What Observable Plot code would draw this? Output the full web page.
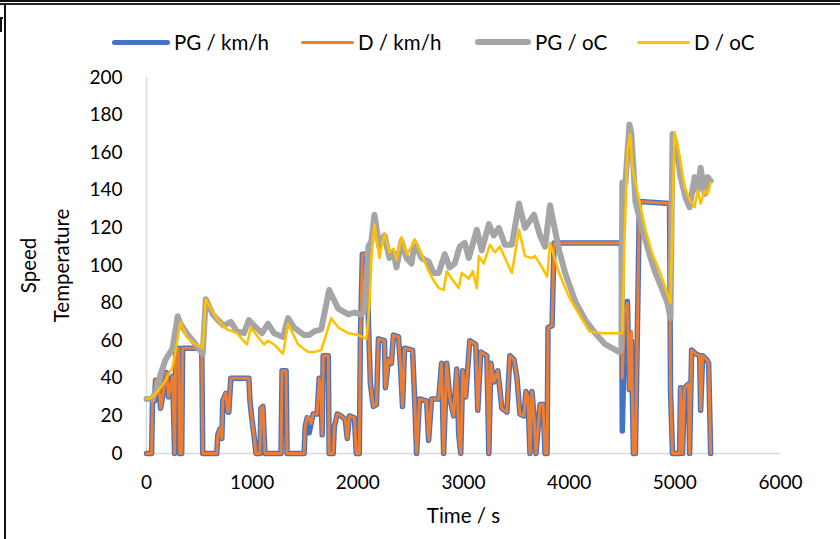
<!DOCTYPE html>
<html><head><meta charset="utf-8">
<script src="https://cdn.jsdelivr.net/npm/d3@7"></script>
<script src="https://cdn.jsdelivr.net/npm/@observablehq/plot@0.6"></script>
<style>
html,body{margin:0;padding:0;background:#fff;overflow:hidden;}
#page{position:relative;width:840px;height:539px;font-family:Lato,sans-serif;color:#000;}
#legend{position:relative;width:840px;height:60px;}
.item{position:absolute;top:30px;height:24px;display:flex;align-items:center;font-size:20.5px;white-space:nowrap;}
.sw{display:inline-block;border-radius:3px;margin-right:4px;}
.frame-top1{position:absolute;left:0;top:0;width:840px;height:2px;background:#111;}
.frame-top2{position:absolute;left:0;top:3px;width:840px;height:2px;background:#222;}
.frame-left{position:absolute;left:4px;top:5px;width:1.5px;height:534px;background:#111;}
.cut{position:absolute;left:0;top:17px;width:1.5px;height:15px;background:#111;}
.cut2{position:absolute;left:0;top:17px;width:3px;height:1.5px;background:#111;}
#chart svg{display:block;}
</style>
</head>
<body>
<div id="page">
  <div id="legend">
    <div class="frame-top1"></div><div class="frame-top2"></div><div class="frame-left"></div>
    <div class="cut"></div><div class="cut2"></div>
  </div>
  <div id="chart"></div>
</div>
<script>
// ---- data (time in s, value) ----
const seriesNames = ["PG / km/h", "D / km/h", "PG / oC", "D / oC"];
const seriesColors = ["#4472C4", "#ED7D31", "#A5A5A5", "#FFC000"];
const xTicks = [0, 1000, 2000, 3000, 4000, 5000, 6000];
const yTicks = [0, 20, 40, 60, 80, 100, 120, 140, 160, 180, 200];

const pgSpeed = [[0,0],[48,0],[57,28],[76,28],[86,39],[114,38],[133,24],[152,30],[171,38],[190,43],[209,30],[228,36],[247,41],[257,20],[266,0],[276,56],[304,56],[314,0],[333,0],[342,56],[523,56],[532,0],[665,0],[675,10],[694,13],[713,8],[722,28],[751,32],[770,22],[779,22],[798,40],[969,40],[979,28],[998,18],[1017,10],[1036,0],[1074,0],[1083,24],[1102,25],[1121,0],[1273,0],[1283,44],[1321,44],[1330,0],[1492,0],[1501,14],[1520,19],[1539,11],[1558,16],[1577,21],[1615,21],[1634,40],[1653,30],[1663,10],[1672,52],[1720,52],[1729,0],[1767,0],[1777,14],[1805,21],[1843,20],[1881,18],[1900,8],[1919,20],[1967,19],[1986,0],[2014,0],[2024,60],[2043,106],[2090,106],[2100,70],[2119,37],[2147,25],[2176,26],[2195,61],[2252,60],[2261,35],[2290,50],[2318,48],[2337,63],[2385,62],[2404,46],[2423,25],[2442,56],[2518,55],[2537,30],[2556,0],[2584,29],[2651,28],[2670,7],[2698,29],[2765,29],[2793,48],[2812,0],[2841,48],[2869,30],[2907,20],[2936,45],[2955,10],[2974,0],[2993,44],[3021,30],[3059,60],[3116,58],[3135,23],[3164,54],[3221,52],[3240,0],[3259,48],[3287,38],[3325,44],[3363,24],[3411,22],[3439,52],[3477,50],[3506,40],[3534,21],[3572,20],[3591,33],[3610,30],[3629,0],[3648,33],[3667,20],[3686,0],[3724,26],[3753,26],[3772,0],[3791,0],[3800,67],[3838,68],[3857,112],[4494,112],[4503,12],[4522,60],[4551,81],[4570,34],[4589,60],[4608,0],[4627,0],[4665,134],[4950,133],[4959,34],[4978,0],[5045,0],[5054,35],[5073,0],[5092,35],[5130,37],[5140,0],[5159,55],[5197,53],[5235,52],[5244,23],[5263,52],[5301,50],[5320,48],[5339,0]];

const dSpeed = [[0,0],[48,0],[57,28],[76,28],[86,39],[114,38],[133,24],[152,30],[171,38],[190,43],[209,30],[228,36],[247,41],[257,20],[266,0],[276,56],[304,56],[314,0],[333,0],[342,56],[523,56],[532,0],[665,0],[675,10],[694,13],[713,8],[722,28],[751,32],[770,22],[779,22],[798,40],[969,40],[979,28],[998,18],[1017,10],[1036,0],[1074,0],[1083,24],[1102,25],[1121,0],[1273,0],[1283,44],[1321,44],[1330,0],[1492,0],[1501,14],[1520,19],[1539,19],[1558,16],[1577,21],[1615,21],[1634,40],[1653,30],[1663,10],[1672,52],[1720,52],[1729,0],[1767,0],[1777,14],[1805,21],[1843,20],[1881,18],[1900,8],[1919,20],[1967,19],[1986,0],[2014,0],[2024,60],[2043,106],[2090,106],[2100,70],[2119,37],[2147,25],[2176,26],[2195,61],[2252,60],[2261,35],[2290,50],[2318,48],[2337,63],[2385,62],[2404,46],[2423,25],[2442,56],[2518,55],[2537,30],[2556,0],[2584,29],[2651,28],[2670,7],[2698,29],[2765,29],[2793,48],[2812,0],[2841,48],[2869,30],[2907,20],[2936,45],[2955,10],[2974,0],[2993,44],[3021,30],[3059,60],[3116,58],[3135,23],[3164,54],[3221,52],[3240,0],[3259,48],[3287,38],[3325,44],[3363,24],[3411,22],[3439,52],[3477,50],[3506,40],[3534,21],[3572,20],[3591,33],[3610,30],[3629,0],[3648,33],[3667,20],[3686,0],[3724,26],[3753,26],[3772,0],[3791,0],[3800,67],[3838,68],[3857,112],[4494,112],[4503,40],[4522,75],[4551,80],[4570,34],[4589,65],[4608,0],[4627,0],[4665,134],[4950,133],[4959,34],[4978,0],[5045,0],[5054,35],[5073,0],[5092,35],[5130,37],[5140,0],[5159,55],[5197,53],[5235,52],[5244,23],[5263,52],[5301,50],[5320,48],[5339,0]];

const pgTemp = [[0,29],[57,29],[86,33],[133,42],[181,50],[247,56],[295,73],[323,69],[380,64],[466,58],[532,53],[561,82],[627,74],[675,71],[732,68],[798,70],[855,65],[922,64],[969,71],[1036,67],[1093,64],[1150,69],[1207,64],[1292,62],[1340,72],[1397,67],[1492,63],[1539,63],[1587,65],[1653,66],[1682,74],[1729,87],[1815,77],[1910,74],[1967,75],[2033,74],[2062,76],[2100,110],[2128,113],[2157,127],[2204,110],[2252,116],[2299,104],[2337,107],[2366,99],[2413,113],[2461,104],[2508,101],[2537,112],[2603,104],[2670,102],[2717,96],[2765,96],[2822,106],[2869,99],[2917,101],[2964,110],[3012,112],[3050,104],[3126,119],[3173,108],[3240,122],[3287,116],[3335,120],[3392,111],[3458,111],[3525,133],[3582,120],[3667,127],[3724,116],[3772,110],[3819,132],[3905,108],[3962,96],[4057,81],[4152,71],[4247,64],[4342,58],[4408,56],[4475,54],[4494,56],[4503,144],[4532,144],[4570,175],[4589,170],[4627,134],[4693,119],[4760,106],[4817,96],[4883,87],[4931,80],[4959,72],[4978,170],[5007,165],[5054,147],[5102,136],[5140,131],[5187,147],[5216,140],[5244,152],[5282,138],[5311,147],[5339,145]];

const dTemp = [[0,29],[57,30],[86,32],[133,35],[190,40],[247,46],[276,55],[323,70],[380,62],[466,58],[532,56],[561,82],[675,71],[760,66],[855,64],[950,58],[988,67],[1055,62],[1112,58],[1150,60],[1207,58],[1292,53],[1340,69],[1435,58],[1530,54],[1587,54],[1653,55],[1682,60],[1748,72],[1815,67],[1910,64],[2005,63],[2081,61],[2109,78],[2128,103],[2157,122],[2204,104],[2252,117],[2299,107],[2337,109],[2366,103],[2413,115],[2461,106],[2508,110],[2537,114],[2603,106],[2670,97],[2717,92],[2765,88],[2812,87],[2841,97],[2888,93],[2955,88],[2983,96],[3050,93],[3088,97],[3126,88],[3145,105],[3192,101],[3249,111],[3297,107],[3344,110],[3392,104],[3458,96],[3525,119],[3582,105],[3648,104],[3677,105],[3743,99],[3791,94],[3819,112],[3905,96],[4000,83],[4095,74],[4190,65],[4313,64],[4503,64],[4522,110],[4551,161],[4579,170],[4598,152],[4665,134],[4722,119],[4788,106],[4855,97],[4912,88],[4959,80],[4997,171],[5045,158],[5092,142],[5140,135],[5187,131],[5216,140],[5244,133],[5282,140],[5311,138],[5339,144]];

// ---- legend ----
const legendItems = [
  {left: 112, w: 58, h: 5},
  {left: 301, w: 53, h: 3},
  {left: 475, w: 56, h: 6},
  {left: 637, w: 53, h: 3}
];
const legend = document.getElementById("legend");
legendItems.forEach((it, i) => {
  const d = document.createElement("div");
  d.className = "item";
  d.style.left = it.left + "px";
  const sw = document.createElement("span");
  sw.className = "sw";
  sw.style.width = it.w + "px";
  sw.style.height = it.h + "px";
  sw.style.background = seriesColors[i];
  d.appendChild(sw);
  d.appendChild(document.createTextNode(seriesNames[i]));
  legend.appendChild(d);
});

const X = d => d[0], Y = d => d[1];
const chart = Plot.plot({
  width: 840,
  height: 479,
  marginLeft: 146,
  marginRight: 60,
  marginTop: 17,
  marginBottom: 86,
  style: {fontFamily: "Lato, sans-serif", fontSize: "19px", color: "#000", background: "transparent", overflow: "visible"},
  x: {domain: [0, 6000], ticks: xTicks, tickFormat: d => String(d), tickSize: 0, tickPadding: 22, label: null},
  y: {domain: [0, 200], ticks: yTicks, tickFormat: d => String(d), tickSize: 0, tickPadding: 24, label: null},
  marks: [
    Plot.ruleX([0], {stroke: "#D9D9D9", strokeWidth: 1.5}),
    Plot.ruleY([0], {stroke: "#D9D9D9", strokeWidth: 1.5}),
    Plot.line(pgSpeed, {x: X, y: Y, stroke: seriesColors[0], strokeWidth: 5.5, strokeLinejoin: "round", strokeLinecap: "round"}),
    Plot.line(dSpeed, {x: X, y: Y, stroke: seriesColors[1], strokeWidth: 3, strokeLinejoin: "round", strokeLinecap: "round"}),
    Plot.line(pgTemp, {x: X, y: Y, stroke: seriesColors[2], strokeWidth: 6, strokeLinejoin: "round", strokeLinecap: "round"}),
    Plot.line(dTemp, {x: X, y: Y, stroke: seriesColors[3], strokeWidth: 2.5, strokeLinejoin: "round", strokeLinecap: "round"}),
    Plot.text(["Speed"], {frameAnchor: "left", textAnchor: "middle", dx: -117, rotate: -90, fontSize: 20.5}),
    Plot.text(["Temperature"], {frameAnchor: "left", textAnchor: "middle", dx: -84, rotate: -90, fontSize: 20.5}),
    Plot.text(["Time / s"], {frameAnchor: "bottom", dy: 69, fontSize: 20.5})
  ]
});
document.getElementById("chart").appendChild(chart);
</script>
</body></html>
